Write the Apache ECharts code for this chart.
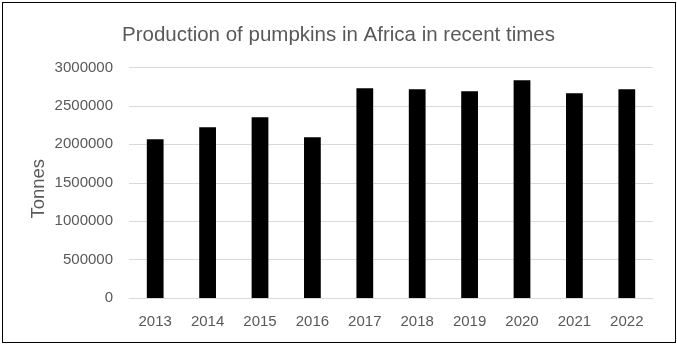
<!DOCTYPE html>
<html><head><meta charset="utf-8">
<script src="https://cdn.jsdelivr.net/npm/echarts@6/dist/echarts.min.js"></script>
<style>html,body{margin:0;padding:0;background:#fff}#c{width:677px;height:348px}
#frame{position:absolute;left:2px;top:2px;width:672px;height:339px;border:1px solid #000;pointer-events:none}</style>
</head><body>
<div id="c"></div><div id="frame"></div>
<script>
const categories = ['2013','2014','2015','2016','2017','2018','2019','2020','2021','2022'];
const production = [2066000, 2223000, 2353000, 2092000, 2730000, 2717000, 2691000, 2835000, 2665000, 2717000];
const yTicks = [0, 500000, 1000000, 1500000, 2000000, 2500000, 3000000];

const font = 'Liberation Sans';
const chart = echarts.init(document.getElementById('c'));
chart.setOption({
  animation: false,
  title: {
    text: 'Production of pumpkins in Africa in recent times',
    left: 'center', top: 20,
    textStyle: { fontFamily: font, fontSize: 20.5, fontWeight: 'normal', color: '#595959' }
  },
  grid: { left: 129, right: 24, top: 67.5, bottom: 50 },
  xAxis: {
    type: 'category', data: categories,
    axisLine: { lineStyle: { color: '#d9d9d9' } },
    axisTick: { show: false },
    axisLabel: { fontFamily: font, fontSize: 15, color: '#595959', margin: 16 }
  },
  yAxis: {
    type: 'value', min: yTicks[0], max: yTicks[yTicks.length - 1], interval: yTicks[1] - yTicks[0],
    name: 'Tonnes', nameLocation: 'middle', nameGap: 81, nameMoveOverlap: false,
    nameTextStyle: { fontFamily: font, fontSize: 18.5, color: '#595959', padding: [0, 12, 0, 0] },
    axisLine: { show: false }, axisTick: { show: false },
    splitLine: { lineStyle: { color: '#d9d9d9' } },
    axisLabel: { fontFamily: font, fontSize: 15, color: '#595959', margin: 16, formatter: v => String(v) }
  },
  series: [{
    type: 'bar', data: production, barWidth: '32%',
    itemStyle: { color: '#000000' }
  }]
});
</script>
</body></html>
